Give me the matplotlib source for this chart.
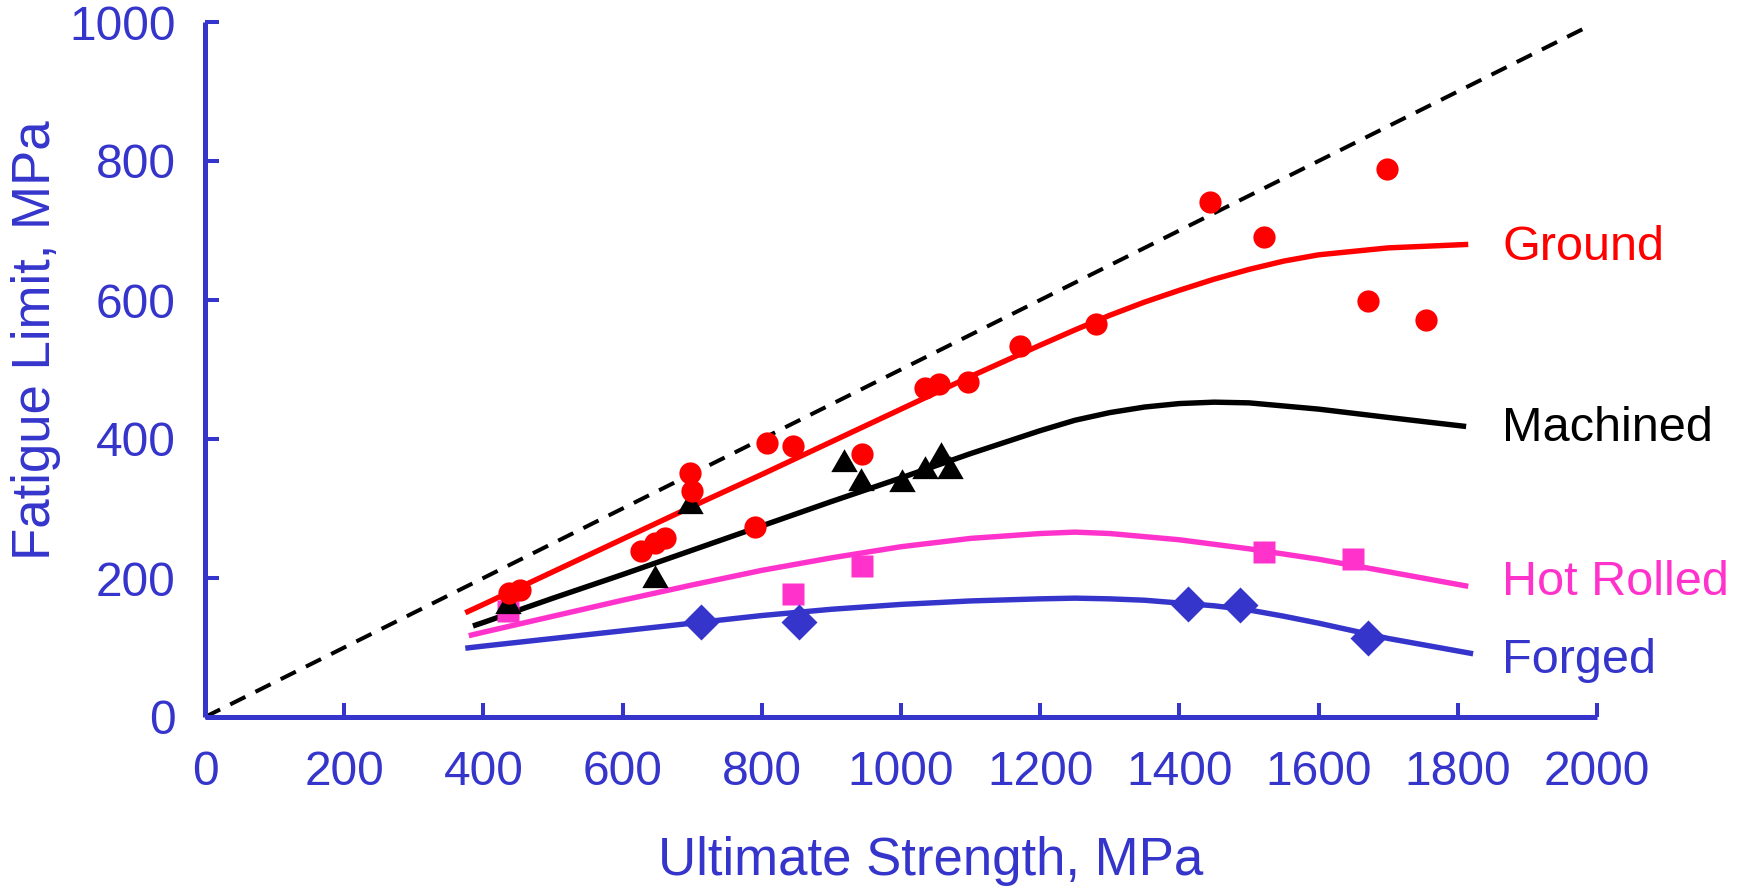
import matplotlib
matplotlib.use("Agg")
import matplotlib.pyplot as plt

plt.rcParams['font.family'] = ['Liberation Sans', 'DejaVu Sans']

BLUE = '#3535CC'
RED = '#FF0000'
MAG = '#FF33CC'

# Scatter data
ground_x = [437, 452, 626, 647, 661, 697, 700, 790, 808, 845, 944, 1034, 1055, 1096,
            1171, 1280, 1444, 1521, 1671, 1698, 1754]
ground_y = [178, 183, 239, 250, 257, 351, 325, 274, 394, 390, 378, 473, 479, 482,
            534, 565, 741, 690, 598, 789, 571]

mach_x = [435, 647, 697, 918, 942, 1002, 1034, 1057, 1070]
mach_y = [159, 197, 303, 364, 336, 335, 354, 374, 354]

hot_x = [435, 845, 944, 1522, 1649]
hot_y = [152, 177, 217, 238, 228]

forg_x = [712, 853, 1413, 1487, 1671]
forg_y = [137, 136, 162, 161, 114]

# Fitted curves
ground_cx = [374, 400, 500, 600, 700, 800, 900, 1000, 1100, 1200, 1250, 1300, 1350, 1400,
             1450, 1500, 1550, 1600, 1700, 1815]
ground_fit = [150, 162, 209, 256, 303, 349, 396, 443, 490, 535, 557, 578, 597, 614,
              630, 644, 656, 665, 675, 680]
mach_cx = [385, 400, 500, 600, 700, 800, 900, 1000, 1100, 1200, 1250, 1300, 1350, 1400,
           1450, 1500, 1600, 1700, 1812]
mach_fit = [131, 136, 171, 205, 240, 275, 310, 344, 379, 412, 427, 438, 446, 451,
            453, 452, 443, 431, 418]
hot_cx = [379, 400, 500, 600, 700, 800, 900, 1000, 1100, 1200, 1250, 1300, 1400, 1500,
          1600, 1700, 1815]
hot_fit = [117, 122, 145, 168, 190, 211, 229, 245, 257, 264, 266, 264, 255, 242,
           227, 209, 188]
forg_cx = [374, 400, 500, 600, 700, 800, 900, 1000, 1100, 1200, 1250, 1300, 1350, 1400,
           1450, 1500, 1550, 1600, 1700, 1822]
forg_fit = [99, 102, 113, 124, 135, 146, 155, 162, 167, 170, 171, 170, 168, 164,
            160, 154, 145, 135, 113, 91]

ref_x = [0, 1980]
ref_y = [0, 990]

labels = ['Ground', 'Machined', 'Hot Rolled', 'Forged']
label_y = [676, 415, 193, 81]

fig = plt.figure(figsize=(17.45, 8.93), dpi=100)
ax = fig.add_axes([205 / 1745, 1 - 717 / 893, 1392 / 1745, 695 / 893])

ax.plot(ref_x, ref_y, color='black', lw=2.9, dashes=(4.2, 2.8), zorder=2)

for cx, cy, c in [(ground_cx, ground_fit, RED), (mach_cx, mach_fit, 'black'),
                  (hot_cx, hot_fit, MAG), (forg_cx, forg_fit, BLUE)]:
    ax.plot(cx, cy, color=c, lw=3.9, zorder=3, solid_capstyle='butt',
            solid_joinstyle='round')

tri = [(-1, -0.577), (1, -0.577), (0, 1.155)]
ax.plot(hot_x, hot_y, 's', color=MAG, ms=15.5, mec='none', zorder=4)
ax.plot(forg_x, forg_y, 'D', color=BLUE, ms=18, mec='none', zorder=4)
ax.plot(mach_x, mach_y, marker=tri, ls='none', color='black', ms=22, mec='none', zorder=5)
ax.plot(ground_x, ground_y, 'o', color=RED, ms=16, mec='none', zorder=6)

label_colors = [RED, 'black', MAG, BLUE]
for t, yy, c in zip(labels, label_y, label_colors):
    ax.text(1864, yy, t, color=c, fontsize=35, va='center', ha='left', clip_on=False)

ax.set_xlim(0, 2000)
ax.set_ylim(0, 1000)
ax.set_xticks(range(0, 2001, 200))
ax.set_yticks(range(0, 1001, 200))
for s in ['top', 'right']:
    ax.spines[s].set_visible(False)
for s in ['left', 'bottom']:
    ax.spines[s].set_color(BLUE)
    ax.spines[s].set_linewidth(3.6)
    ax.spines[s].set_capstyle('butt')
ax.tick_params(axis='both', direction='in', length=10, width=2.9, color=BLUE,
               labelcolor=BLUE, labelsize=34.5)
ax.tick_params(axis='x', pad=24)
ax.tick_params(axis='y', pad=21)

fig.text(931 / 1745, 1 - 861 / 893, 'Ultimate Strength, MPa', color=BLUE, fontsize=38,
         ha='center', va='center')
fig.text(36 / 1745, 1 - 340 / 893, 'Fatigue Limit, MPa', color=BLUE, fontsize=38,
         ha='center', va='center', rotation=90)

fig.savefig('out.png', dpi=100)
